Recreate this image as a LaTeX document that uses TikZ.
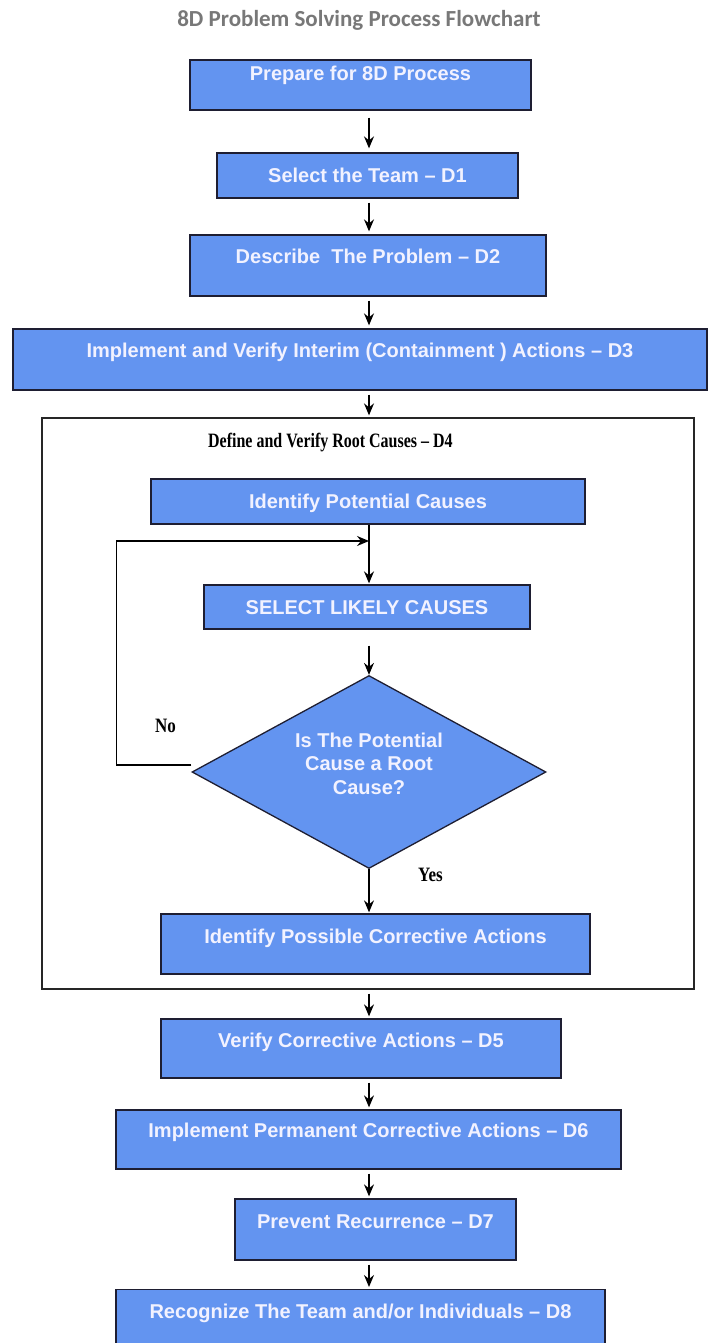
\documentclass[tikz,border=0pt]{standalone}
\usepackage{fontspec}
\usepackage{graphicx}
\setmainfont{Liberation Serif}
\newfontfamily\boxfont[Ligatures=TeX]{Liberation Sans}
\newfontfamily\titlefont{Carlito}
\usetikzlibrary{shapes.geometric,arrows.meta}
\definecolor{boxblue}{RGB}{99,148,240}
\definecolor{boxtext}{RGB}{242,242,255}
\definecolor{edgecol}{RGB}{30,30,50}
\definecolor{titlegray}{RGB}{120,120,120}
\begin{document}
\begin{tikzpicture}[x=1pt,y=-1pt,
  box/.style={draw=edgecol, line width=1.3pt, fill=boxblue, inner sep=0pt,
    text=boxtext, font=\boxfont\bfseries\fontsize{20}{24}\selectfont,
    text height=14.3pt, text depth=0pt},
  arr/.style={draw=black, line width=1.4pt, -{Stealth[length=12pt,width=10pt,inset=4pt]}},
  serifbold/.style={font=\bfseries\fontsize{17}{20}\selectfont, inner sep=0pt}]
\useasboundingbox (0,0) rectangle (708,1343);
\clip (0,0) rectangle (708,1343);
\fill[white] (0,0) rectangle (708,1343);

% title
\node[font=\titlefont\bfseries\fontsize{23}{27}\selectfont, text=titlegray, anchor=base, inner sep=0pt]
  (title) at (359,27) {8D Problem Solving Process Flowchart};

% main boxes
\node[box, minimum width=341pt, minimum height=50pt, text depth=24pt] (b1) at (360.5,85) {Prepare for 8D Process};
\node[box, minimum width=301pt, minimum height=45pt] (b2) at (367.5,175.5) {Select the Team \textendash{} D1};
\node[box, minimum width=356pt, minimum height=61pt, text depth=18pt] (b3) at (368,265.5) {Describe\ \ The Problem \textendash{} D2};
\node[box, minimum width=694pt, minimum height=61pt, text depth=18pt] (d3) at (360,359.5) {Implement and Verify Interim (Containment ) Actions \textendash{} D3};

% container D4
\node[draw=black!85, line width=1.3pt, minimum width=652pt, minimum height=571pt, inner sep=0pt] (cont) at (368,703.5) {};
\node[serifbold, anchor=base west] (ctitle) at (208,447) {\scalebox{0.94}[1.2]{Define and Verify Root Causes \textendash{} D4}};

\node[box, minimum width=434pt, minimum height=45pt] (ipc) at (368,501.5) {Identify Potential Causes};
\node[box, minimum width=326pt, minimum height=44pt] (slc) at (367,607) {SELECT LIKELY CAUSES};
\node[diamond, draw=edgecol, line width=1.3pt, fill=boxblue, minimum width=354pt, minimum height=193pt, inner sep=0pt] (dia) at (369,772) {};
\node[align=center, text=boxtext, font=\boxfont\bfseries\fontsize{20}{23.5}\selectfont, inner sep=0pt] (diatext) at (369,763.5) {Is The Potential\\Cause a Root\\Cause?};
\node[box, minimum width=429pt, minimum height=60pt, text depth=16pt] (ipa) at (375.5,944) {Identify Possible Corrective Actions};

\node[serifbold, anchor=base west] (no) at (155,732) {\scalebox{1}[1.2]{No}};
\node[serifbold, anchor=base west] (yes) at (418,881) {\scalebox{1}[1.2]{Yes}};

% lower boxes
\node[box, minimum width=400pt, minimum height=59pt, text depth=16pt] (d5) at (361,1048.5) {Verify Corrective Actions \textendash{} D5};
\node[box, minimum width=505pt, minimum height=59pt, text depth=18pt] (d6) at (368.5,1139.5) {Implement Permanent Corrective Actions \textendash{} D6};
\node[box, minimum width=281pt, minimum height=61pt, text depth=17pt] (d7) at (375.5,1229.5) {Prevent Recurrence \textendash{} D7};
\node[box, minimum width=489pt, minimum height=70pt, anchor=north] (d8) at (360.5,1289) {};
\node[text=boxtext, font=\boxfont\bfseries\fontsize{20}{24}\selectfont, inner sep=0pt, text height=14.3pt, text depth=0pt] (d8text) at (360.5,1311.5) {Recognize The Team and/or Individuals \textendash{} D8};

% connectors
\coordinate (ax) at (369,0);
\coordinate (mer) at (369,541);
\draw[arr, shorten <=7pt, shorten >=4pt] (b1.south -| ax) -- (b2.north -| ax);
\draw[arr, shorten <=4pt, shorten >=3pt] (b2.south -| ax) -- (b3.north -| ax);
\draw[arr, shorten <=4pt, shorten >=3pt] (b3.south -| ax) -- (d3.north -| ax);
\draw[arr, shorten <=4pt, shorten >=2pt] (d3.south -| ax) -- (cont.north -| ax);
\draw[arr, shorten >=1pt] (ipc.south -| ax) -- (slc.north -| ax);
\draw[arr, shorten <=16pt] (slc.south -| ax) -- (dia.north);
\draw[arr, shorten >=1pt] (dia.south) -- (ipa.north -| ax);
\draw[arr, shorten <=4pt, shorten >=2pt] (cont.south -| ax) -- (d5.north -| ax);
\draw[arr, shorten <=4pt, shorten >=2pt] (d5.south -| ax) -- (d6.north -| ax);
\draw[arr, shorten <=4pt, shorten >=2pt] (d6.south -| ax) -- (d7.north -| ax);
\draw[arr, shorten <=4pt, shorten >=2pt] (d7.south -| ax) -- (d8.north -| ax);
% No loop
\draw[arr] ([yshift=7pt]dia.west) -- ++(-75,0) |- (mer);
\end{tikzpicture}
\end{document}
